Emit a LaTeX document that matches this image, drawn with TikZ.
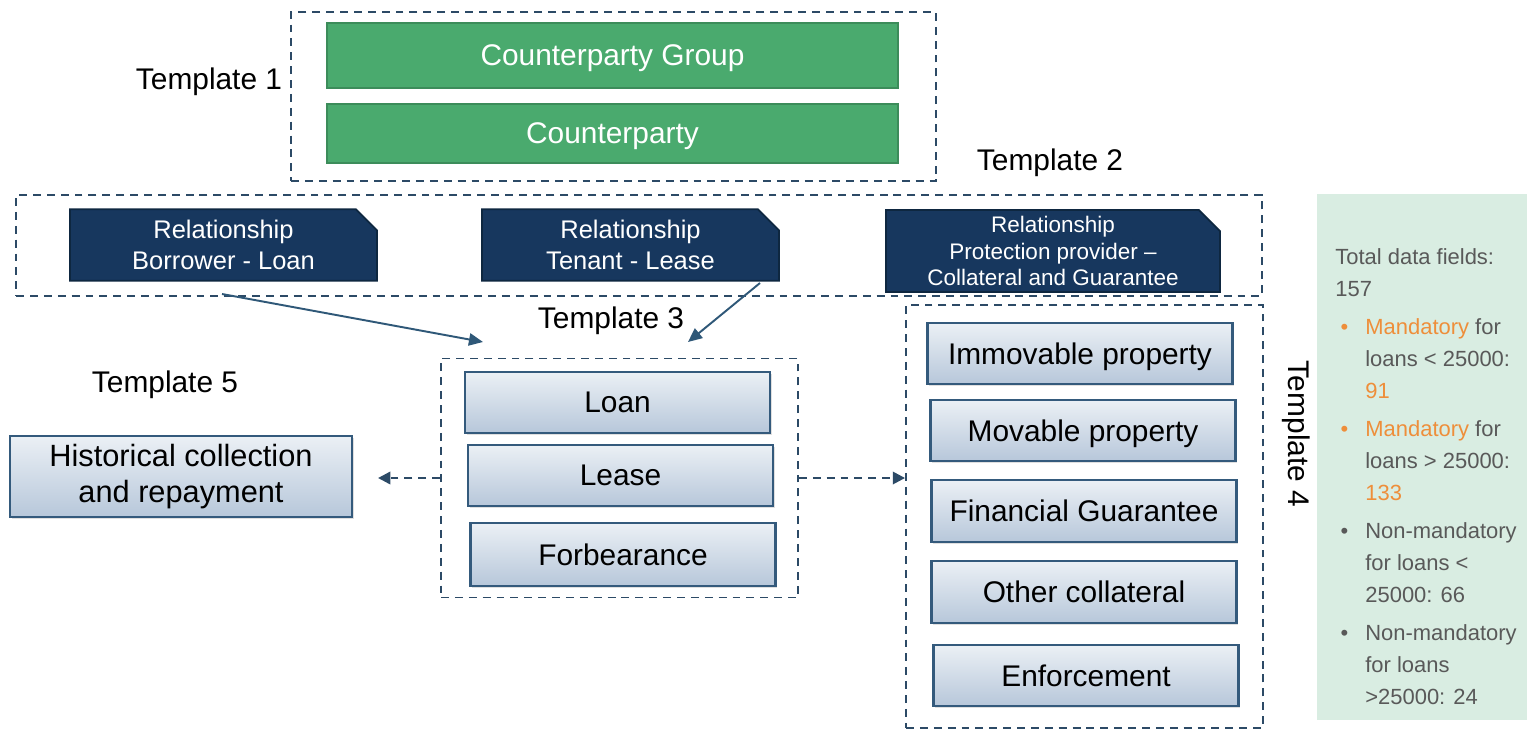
\documentclass[tikz,border=0pt]{standalone}
\usepackage{fontspec}
\setmainfont{Liberation Sans}
\usetikzlibrary{positioning, shapes.misc, arrows.meta, shadows}

\definecolor{dashcol}{HTML}{2C4A66}
\definecolor{arrowcol}{HTML}{2F5878}
\definecolor{grpgreen}{HTML}{4AAA6E}
\definecolor{grpedge}{HTML}{3C8C5A}
\definecolor{relblue}{HTML}{17375E}
\definecolor{reledge}{HTML}{0E2740}
\definecolor{itemtop}{HTML}{EBF0F5}
\definecolor{itembot}{HTML}{B7C7DA}
\definecolor{itemedge}{HTML}{345A7C}
\definecolor{panelfill}{HTML}{D9EDE2}
\definecolor{paneltext}{HTML}{595959}
\definecolor{mandorange}{HTML}{EE8E3A}

\tikzset{
	tmplbox/.style={draw=dashcol, line width=1.1pt, dash pattern=on 4.5pt off 3.4pt, inner sep=0},
	tmpllabel/.style={font=\fontsize{17}{20}\selectfont, text=black, inner sep=0},
	grpbox/.style={rectangle, fill=grpgreen, draw=grpedge, line width=1pt, text=white,
		font=\fontsize{17}{20}\selectfont, minimum width=11.42cm, text depth=0pt},
	relbox/.style={chamfered rectangle, chamfered rectangle corners=north east,
		chamfered rectangle xsep=6pt, chamfered rectangle ysep=6pt,
		fill=relblue, draw=reledge, line width=1pt, text=white, align=center,
		font=\fontsize{14.5}{18}\selectfont, inner sep=0},
	boxlook/.style={rectangle, draw=itemedge, line width=1.2pt, top color=itemtop, bottom color=itembot,
		drop shadow={opacity=0.25, shadow xshift=1pt, shadow yshift=-1pt},
		font=\fontsize{17}{20}\selectfont},
	itembox/.style={boxlook, minimum width=6.1cm, minimum height=1.22cm, text depth=0pt},
	flowarrow/.style={draw=arrowcol, line width=1.1pt, -{Triangle[length=8pt, width=7pt]}},
	dasharrow/.style={draw=dashcol, line width=1.4pt, dash pattern=on 4.5pt off 3.4pt,
		-{Triangle[length=7pt, width=7pt]}},
}

\begin{document}
\begin{tikzpicture}[x=0.02cm, y=-0.02cm]
	\useasboundingbox (0, 0) rectangle (1527, 730);

	% template frames
	\node[tmplbox, minimum width=12.9cm, minimum height=3.38cm] (t1box) at (613.5, 96.5) {};
	\node[tmplbox, minimum width=24.92cm, minimum height=2.02cm] (t2box) at (639, 245.5) {};
	\node[tmplbox, minimum width=7.14cm, minimum height=4.78cm] (t3box) at (619.5, 478) {};
	\node[tmplbox, minimum width=7.14cm, minimum height=8.46cm] (t4box) at (1084.5, 516.5) {};

	\node[tmpllabel] (t1lab) at (209, 82) {Template 1};
	\node[tmpllabel] (t2lab) at (1050, 163) {Template 2};
	\node[tmpllabel] (t3lab) at (611, 321) {Template 3};
	\node[tmpllabel] (t5lab) at (165, 385) {Template 5};
	\node[tmpllabel, rotate=-90] (t4lab) at (1296, 434) {Template 4};

	% template 1
	\node[grpbox, minimum height=1.3cm] (cgroup) at (612.5, 55.5) {Counterparty Group};
	\node[grpbox, minimum height=1.18cm] (cparty) at (612.5, 133.5) {Counterparty};

	% template 2
	\node[relbox, minimum width=6.14cm, minimum height=1.4cm] (rel1) at (223.5, 245) {Relationship\\Borrower - Loan};
	\node[relbox, minimum width=5.94cm, minimum height=1.4cm] (rel2) at (630.5, 245) {Relationship\\Tenant - Lease};
	\node[relbox, minimum width=6.68cm, minimum height=1.64cm, inner ysep=-4pt,
		font=\fontsize{12.8}{15.3}\selectfont]
		(rel3) at (1053, 251) {Relationship\\Protection provider --\\Collateral and Guarantee};

	% template 3
	\node[itembox] (loan) at (617.5, 402.5) {Loan};
	\node[itembox] (lease) at (620.5, 475.5) {Lease};
	\node[itembox, minimum height=1.26cm] (forb) at (623, 554.5) {Forbearance};

	% template 4
	\node[itembox] (immov) at (1080, 353.5) {Immovable property};
	\node[itembox] (mov) at (1083, 430.5) {Movable property};
	\node[itembox, minimum height=1.24cm] (fin) at (1084, 511) {Financial Guarantee};
	\node[itembox, minimum height=1.24cm] (othcoll) at (1084, 592) {Other collateral};
	\node[itembox] (enf) at (1086, 675.5) {Enforcement};

	% template 5
	\node[boxlook, minimum width=6.84cm, minimum height=1.62cm, align=center,
		font=\fontsize{17.5}{20.4}\selectfont]
		(hist) at (181, 476.5) {Historical collection\\and repayment};

	% links
	\coordinate (a1s) at (222, 294);
	\coordinate (a1e) at (483, 342);
	\coordinate (a2s) at (760, 283);
	\coordinate (a2e) at (688, 342);
	\draw[flowarrow] (a1s) -- (a1e);
	\draw[flowarrow] (a2s) -- (a2e);
	\draw[dasharrow, shorten >=25*0.02cm] (t3box.west) -- (hist.east |- t3box.west);
	\draw[dasharrow] (t3box.east) -- (t4box.west |- t3box.east);

	% field counts
	\fill[panelfill] (1317, 194) rectangle (1527, 720);
	\node[anchor=north west, inner sep=0, text=paneltext, font=\fontsize{12.5}{18.1}\selectfont]
		(fields) at (1335, 242) {%
		\begin{tabular}{@{}l@{}l@{}}
			\multicolumn{2}{@{}l@{}}{Total data fields:}\\
			\multicolumn{2}{@{}l@{}}{157}\\[3.7pt]
			\makebox[0.6cm][l]{\hspace{3pt}\textcolor{mandorange}{\textbullet}} & \textcolor{mandorange}{Mandatory} for\\
			& loans < 25000:\\
			& \textcolor{mandorange}{91}\\[3.7pt]
			\makebox[0.6cm][l]{\hspace{3pt}\textcolor{mandorange}{\textbullet}} & \textcolor{mandorange}{Mandatory} for\\
			& loans > 25000:\\
			& \textcolor{mandorange}{133}\\[3.7pt]
			\makebox[0.6cm][l]{\hspace{3pt}\textbullet} & Non-mandatory\\
			& for loans <\\
			& 25000: 66\\[3.7pt]
			\makebox[0.6cm][l]{\hspace{3pt}\textbullet} & Non-mandatory\\
			& for loans\\
			& >25000: 24
		\end{tabular}};
\end{tikzpicture}
\end{document}
